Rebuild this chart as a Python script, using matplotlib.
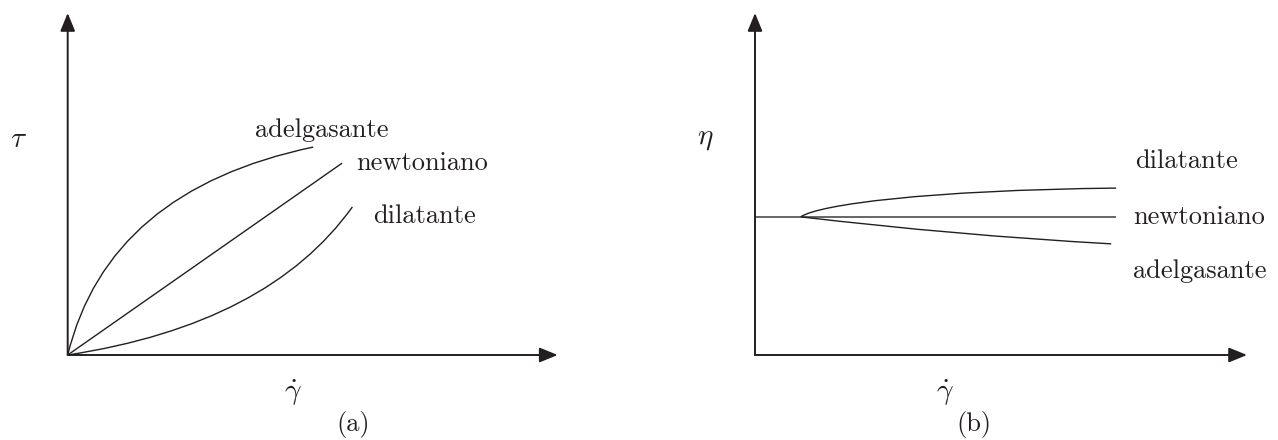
import matplotlib
matplotlib.use("Agg")
import matplotlib.pyplot as plt
from matplotlib.path import Path
from matplotlib.patches import PathPatch

plt.rcParams["font.family"] = "serif"
plt.rcParams["font.serif"] = ["cmr10"]
plt.rcParams["mathtext.fontset"] = "cm"

# Curve control points (start, control(s), end) in plot units
# (a) shear stress vs shear rate
a_newton = [(0.0, 0.0), (5.6, 5.61)]
a_thin = [(0.0, 0.0), (0.82, 4.82), (5.01, 6.08)]
a_thick = [(0.0, 0.0), (4.1, 0.9), (5.81, 4.33)]

# (b) viscosity vs shear rate
b_newton = [(0.0, 4.04), (7.34, 4.04)]
b_thick = [(0.93, 4.04), (1.3, 4.4), (3.5, 4.82), (7.34, 4.88)]
b_thin = [(0.93, 4.04), (4.1, 3.50), (7.24, 3.25)]

labels_a = ["adelgasante", "newtoniano", "dilatante"]
labels_b = ["dilatante", "newtoniano", "adelgasante"]

INK = "#231f20"
FS = 19


def bezier(ax, pts, color=INK, lw=1.0):
    if len(pts) == 2:
        codes = [Path.MOVETO, Path.LINETO]
    elif len(pts) == 3:
        codes = [Path.MOVETO, Path.CURVE3, Path.CURVE3]
    else:
        codes = [Path.MOVETO, Path.CURVE4, Path.CURVE4, Path.CURVE4]
    ax.add_patch(PathPatch(Path(pts, codes), fill=False, edgecolor=color,
                           lw=lw, capstyle="butt"))


def axis_arrows(ax):
    style = "-|>,head_length=1.1,head_width=0.45"
    for tip in [(10, 0), (0, 10)]:
        ax.annotate("", xy=tip, xytext=(0, 0),
                    arrowprops=dict(arrowstyle=style, mutation_scale=10,
                                    lw=1.4, color=INK, shrinkA=0, shrinkB=0),
                    annotation_clip=False)


fig = plt.figure(figsize=(12.78, 4.40), dpi=100)
W, H = 1278, 440

ax1 = fig.add_axes([67.7 / W, 85 / H, 490 / W, 342 / H])
ax2 = fig.add_axes([755 / W, 85 / H, 492 / W, 342 / H])
for ax in (ax1, ax2):
    ax.set_xlim(0, 10)
    ax.set_ylim(0, 10)
    ax.axis("off")
    axis_arrows(ax)

# panel (a)
bezier(ax1, a_newton)
bezier(ax1, a_thin)
bezier(ax1, a_thick)
ax1.text(3.82, 6.37, labels_a[0], fontsize=FS, color=INK, va="baseline")
ax1.text(5.88, 5.41, labels_a[1], fontsize=FS, color=INK, va="baseline")
ax1.text(6.23, 3.86, labels_a[2], fontsize=FS, color=INK, va="baseline")
ax1.text(-1.0, 6.08, r"$\tau$", fontsize=FS + 2, color=INK,
         ha="center", va="baseline")
ax1.text(4.6, -1.32, r"$\dot{\gamma}$", fontsize=FS + 2, color=INK,
         ha="center", va="baseline")
ax1.text(5.82, -2.22, "(a)", fontsize=FS, color=INK, ha="center", va="baseline")

# panel (b)
bezier(ax2, b_newton, color="#4d4d4d", lw=1.2)
bezier(ax2, b_thick)
bezier(ax2, b_thin)
ax2.text(7.72, 5.47, labels_b[0], fontsize=FS, color=INK, va="baseline")
ax2.text(7.68, 3.83, labels_b[1], fontsize=FS, color=INK, va="baseline")
ax2.text(7.68, 2.25, labels_b[2], fontsize=FS, color=INK, va="baseline")
ax2.text(-1.02, 6.17, r"$\eta$", fontsize=FS + 2, color=INK,
         ha="center", va="baseline")
ax2.text(3.86, -1.32, r"$\dot{\gamma}$", fontsize=FS + 2, color=INK,
         ha="center", va="baseline")
ax2.text(4.45, -2.22, "(b)", fontsize=FS, color=INK, ha="center", va="baseline")

fig.savefig("out.png", dpi=100, facecolor="white")
